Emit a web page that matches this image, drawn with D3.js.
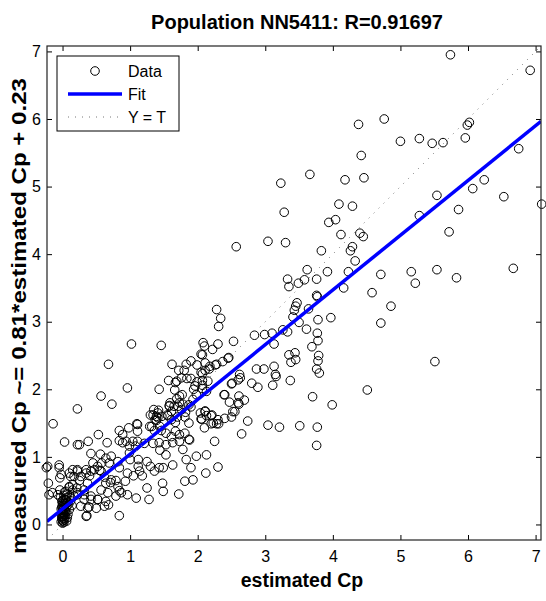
<!DOCTYPE html>
<html>
<head>
<meta charset="utf-8">
<script src="https://cdn.jsdelivr.net/npm/d3@7"></script>
<style>
body { margin: 0; background: #fff; }
text { font-family: "Liberation Sans", Arial, Helvetica, sans-serif; fill: #000; }
</style>
</head>
<body>
<div id="chart"></div>
<script>
// [estimated Cp, measured Cp] pairs, grouped by area

// the solid blob right at estimated = 0
var nearZero = [
    [0.00,0.02],[0.01,0.05],[-0.01,0.08],[0.02,0.10],[0.00,0.12],[0.03,0.14],[-0.02,0.16],[0.01,0.18],
    [0.04,0.20],[0.00,0.22],[0.02,0.24],[-0.01,0.26],[0.03,0.28],[0.05,0.30],[0.01,0.32],[0.00,0.35],
    [0.04,0.37],[0.06,0.40],[0.02,0.43],[0.07,0.45],[0.00,0.06],[0.02,0.03],[-0.02,0.04],[0.03,0.07],
    [0.01,0.09],[-0.01,0.11],[0.04,0.12],[0.02,0.15],[0.00,0.17],[0.05,0.18],[0.03,0.21],[-0.02,0.23],
    [0.01,0.25],[0.06,0.26],[0.00,0.29],[0.03,0.31],[0.08,0.33],[-0.01,0.34],[0.05,0.36],[0.02,0.38],
    [0.09,0.30],[0.10,0.22],[0.08,0.15],[0.07,0.10],[0.06,0.05],[0.12,0.35],[0.11,0.42],[0.14,0.28],
    [0.03,0.48],[-0.03,0.40]
];

// estimated below ~1.3, measured below ~1.5
var lowLeft = [
    [0.03,1.22],[0.53,1.33],[0.25,1.18],[0.38,1.23],[0.66,1.21],[0.84,1.39],[1.10,1.49],[0.84,1.24],
    [0.94,1.23],[1.04,1.23],[0.42,1.05],[0.56,1.04],[0.64,0.98],[0.72,1.01],[0.58,0.91],[0.69,0.91],
    [0.82,0.93],[0.84,0.84],[0.99,1.06],[1.00,0.96],[1.12,0.96],[1.12,0.86],[1.25,0.93],[1.30,0.86],
    [1.14,0.79],[1.05,0.72],[1.18,0.72],[0.96,0.76],[0.93,0.64],[0.79,0.65],[0.82,0.56],[0.71,0.62],
    [0.62,0.70],[0.55,0.80],[0.47,0.81],[0.40,0.72],[0.35,0.81],[0.22,0.81],[0.12,0.71],[0.25,0.65],
    [0.21,0.54],[-0.05,0.84],[-0.04,0.69],[-0.21,0.61],[-0.24,0.84],[-0.15,0.47],[-0.20,0.44],[-0.04,0.51],
    [0.05,0.49],[0.10,0.55],[0.15,0.51],[0.22,0.44],[0.32,0.44],[0.42,0.37],[0.39,0.26],[0.52,0.37],
    [0.64,0.34],[0.68,0.29],[0.84,0.50],[0.96,0.44],[1.09,0.39],[1.25,0.54],[1.28,0.37],[0.84,0.13],
    [0.36,0.13],[0.27,0.27],[0.22,1.18],[-0.05,0.88],[-0.22,0.86],[-0.07,0.44],[-0.02,0.74],[0.10,0.76],
    [0.17,0.71],[0.15,0.81],[0.22,0.79],[0.27,0.71],[0.35,0.76],[0.42,0.79],[0.45,0.91],[0.52,0.86],
    [0.57,0.79],[0.37,0.61],[0.32,0.51],[0.22,0.47],[0.15,0.59],[0.10,0.56],[0.17,0.42],[0.32,0.37],
    [0.42,0.42],[0.52,0.37],[0.57,0.51],[0.64,0.61],[0.72,0.66],[0.67,0.47],[0.79,0.42],[0.87,0.47],
    [0.62,0.27],[0.50,0.24],[0.37,0.24],[0.35,0.12]
];

// the thick band along the fit between 1 and 2.6
var band = [
    [1.48,0.61],[1.49,0.49],[1.72,0.45],[1.81,0.64],[1.93,0.66],[1.63,0.88],[1.43,0.84],[1.36,0.79],
    [1.49,0.84],[1.44,1.10],[1.53,1.03],[1.78,1.11],[2.25,1.23],[2.13,1.03],[1.98,1.01],[1.83,0.96],
    [1.90,0.84],[1.88,1.25],[2.23,1.50],[2.12,0.76],[2.30,0.85],
    [2.50,2.08],[2.60,2.14],[2.39,1.92],[2.47,1.81],[2.60,1.80],[2.55,1.67],[2.50,1.59],[2.40,1.57],
    [2.30,1.55],[2.20,1.49],[2.10,1.43],[2.06,1.56],[2.13,1.61],[2.04,1.65],[1.90,1.74],[1.93,1.85],
    [1.87,1.77],[1.82,1.66],[1.76,1.70],[1.71,1.75],[1.65,1.75],[1.58,1.76],[1.61,1.67],[1.55,1.62],
    [1.47,1.60],[1.41,1.65],[1.34,1.62],[1.39,1.54],[1.29,1.45],[1.36,1.39],[1.46,1.39],[1.53,1.35],
    [1.61,1.30],[1.67,1.38],[1.73,1.33],[1.81,1.35],[1.87,1.26],[1.73,1.23],[1.63,1.21],[1.53,1.18],
    [1.43,1.21],[1.34,1.20],[1.21,1.20],[1.11,1.23],[1.08,1.16],[0.99,1.16],[0.89,1.21],[0.89,1.33],
    [0.98,1.43],[1.11,1.48],[1.11,1.38],
    [1.02,2.67],[1.46,2.65],[0.68,2.37],[0.96,2.02],[1.43,2.00],[0.57,1.90],[0.73,1.78],[0.22,1.71],
    [-0.14,1.49],[1.62,2.37],[1.90,2.42],[1.83,2.37],[1.80,2.28],[1.72,2.28],[1.76,2.17],[1.57,2.13],
    [1.69,2.12],[1.66,1.99],[1.84,2.16],[1.90,2.16],[1.96,2.05],[1.94,2.00],[1.99,2.11],[2.07,2.23],
    [2.11,2.28],[2.07,2.13],[2.13,1.97],[1.98,1.92],[1.73,1.90],[1.77,1.92],[1.69,1.86],[1.73,1.80],
    [1.78,1.78],[1.58,1.75],[1.59,1.80],[1.35,1.70],[1.42,1.69],[1.30,1.62],[1.39,1.60],[1.37,1.55],
    [1.41,1.58],[1.56,1.61],[1.61,1.55],[1.70,1.59],[1.81,1.59],[1.87,1.50],[1.67,1.51],[1.44,1.45],
    [1.32,1.45],[2.11,1.67],[2.21,1.62],[2.28,1.49],[1.99,2.36],[1.67,2.10]
];

// estimated 2 to 4.5, measured up to ~3.4
var middle = [
    [3.76,3.39],[3.77,3.37],[3.47,3.28],[3.45,3.23],[3.43,3.17],[3.64,3.19],[3.41,3.07],[3.50,2.99],
    [3.78,3.03],[3.97,3.06],[3.61,2.89],[3.26,2.88],[3.33,2.85],[2.84,2.80],[2.99,2.81],[3.10,2.83],
    [3.13,2.67],[3.77,2.83],[3.78,2.72],[3.69,2.63],[2.53,2.71],[2.28,3.18],[2.34,3.05],[2.31,2.93],
    [2.08,2.69],[2.10,2.64],[2.30,2.67],[2.22,2.59],[2.05,2.52],[2.46,2.47],[2.37,2.41],[2.28,2.37],
    [2.18,2.34],[3.35,2.51],[3.44,2.54],[3.38,2.40],[3.45,2.44],[3.79,2.50],[3.78,2.42],[3.76,2.30],
    [3.80,2.24],[2.87,2.30],[2.98,2.30],[3.13,2.34],[3.15,2.22],[3.16,2.19],[3.11,2.06],[3.37,2.13],
    [2.80,2.09],[2.89,2.03],[2.62,2.22],[2.63,2.17],[2.51,2.09],[2.40,1.92],[2.61,1.90],[2.69,1.84],
    [2.61,1.78],[2.52,1.67],[2.74,1.53],[2.65,1.34],[3.04,1.47],[3.21,1.44],[3.51,1.46],[3.77,1.44],
    [3.76,1.17],[3.70,1.89],[3.99,1.77],[4.51,1.99],[2.31,1.49],[2.20,1.61],[2.11,1.68],[2.05,1.56],
    [2.07,2.51],[2.11,2.39],[2.17,2.30],[2.26,2.36],[2.45,2.46],[2.05,2.25],[2.15,2.12],[2.07,2.06],
    [2.07,2.01]
];

// the sparse upper right
var upper = [
    [5.74,6.95],[6.92,6.72],[4.76,6.00],[6.02,5.95],[5.99,5.91],[5.00,5.67],[5.28,5.71],[5.47,5.64],
    [5.63,5.65],[5.96,5.72],[6.75,5.56],[6.24,5.10],[6.07,4.97],[5.54,4.87],[6.53,4.85],[7.09,4.74],
    [5.28,4.57],[5.86,4.66],[5.72,4.33],[4.71,3.70],[5.16,3.74],[5.22,3.57],[5.54,3.77],[5.83,3.65],
    [6.67,3.79],[4.86,3.23],[4.71,2.98],[5.51,2.41],[4.38,5.92],[4.42,5.46],[3.66,5.18],[3.23,5.05],
    [4.18,5.10],[4.46,5.13],[3.28,4.62],[4.09,4.74],[4.29,4.71],[3.94,4.47],[4.04,4.51],[4.12,4.29],
    [4.40,4.31],[4.45,4.26],[2.57,4.11],[3.04,4.19],[3.30,4.17],[4.29,4.11],[4.26,4.05],[3.83,4.05],
    [4.33,3.90],[3.62,3.77],[3.92,3.74],[4.23,3.74],[3.33,3.63],[3.35,3.52],[3.49,3.57],[3.58,3.62],
    [3.76,3.63],[4.16,3.50],[4.58,3.43]
];

var fitSlope = 0.81;
var fitIntercept = 0.23;
var tickValues = [0, 1, 2, 3, 4, 5, 6, 7];
var axisLimits = [-0.23, 7.08];
var legendLabels = ["Data", "Fit", "Y = T"];

var titleText = "Population NN5411: R=0.91697";
var xLabelText = "estimated Cp";
var yLabelText = "measured Cp ~= 0.81*estimated Cp + 0.23";

var allPoints = nearZero.concat(lowLeft, band, middle, upper);

//////// layout \\\\\\\\
var width = 546, height = 601;
// (can't call it "top", that's window.top)
var plotLeft = 47, plotTop = 46, plotW = 494, plotH = 494;

var svg = d3.select("#chart").append("svg")
    .attr("width", width)
    .attr("height", height);

var x = d3.scaleLinear().domain(axisLimits).range([plotLeft, plotLeft + plotW]);
var y = d3.scaleLinear().domain(axisLimits).range([plotTop + plotH, plotTop]);

svg.append("clipPath").attr("id", "plotclip")
    .append("rect")
    .attr("x", plotLeft).attr("y", plotTop)
    .attr("width", plotW).attr("height", plotH);

// axes, ticks point inward on all 4 sides (matlab box on)
var styleAxis = function(g) {
    g.select(".domain").remove();
    g.selectAll(".tick line").attr("stroke", "#000");
    g.selectAll(".tick text")
        .style("font-size", "16px")
        .style("font-family", "'Liberation Sans', Arial, sans-serif")
        .attr("fill", "#000");
};

svg.append("g")
    .attr("transform", "translate(0," + (plotTop + plotH) + ")")
    .call(d3.axisBottom(x).tickValues(tickValues).tickSizeInner(-5).tickSizeOuter(0).tickPadding(11))
    .call(styleAxis);

svg.append("g")
    .attr("transform", "translate(0," + plotTop + ")")
    .call(d3.axisTop(x).tickValues(tickValues).tickSizeInner(-5).tickSizeOuter(0).tickFormat(""))
    .call(styleAxis);

svg.append("g")
    .attr("transform", "translate(" + plotLeft + ",0)")
    .call(d3.axisLeft(y).tickValues(tickValues).tickSizeInner(-5).tickSizeOuter(0).tickPadding(6))
    .call(styleAxis);

svg.append("g")
    .attr("transform", "translate(" + (plotLeft + plotW) + ",0)")
    .call(d3.axisRight(y).tickValues(tickValues).tickSizeInner(-5).tickSizeOuter(0).tickFormat(""))
    .call(styleAxis);

// data circles
svg.append("g").selectAll("circle")
    .data(allPoints)
    .enter().append("circle")
    .attr("cx", d => x(d[0]))
    .attr("cy", d => y(d[1]))
    .attr("r", 4.3)
    .attr("fill", "none")
    .attr("stroke", "#000")
    .attr("stroke-width", 1);

// fit line and Y = T, clipped to the axes
var lines = svg.append("g").attr("clip-path", "url(#plotclip)");
var line = d3.line().x(d => x(d[0])).y(d => y(d[1]));

lines.append("path")
    .datum(axisLimits.map(v => [v, fitSlope * v + fitIntercept]))
    .attr("d", line)
    .attr("fill", "none")
    .attr("stroke", "#0000ff")
    .attr("stroke-width", 3.5);

lines.append("path")
    .datum(axisLimits.map(v => [v, v]))
    .attr("d", line)
    .attr("fill", "none")
    .attr("stroke", "#777")
    .attr("stroke-width", 1)
    .attr("stroke-dasharray", "1,6");

// box
svg.append("rect")
    .attr("x", plotLeft).attr("y", plotTop)
    .attr("width", plotW).attr("height", plotH)
    .attr("fill", "none")
    .attr("stroke", "#222")
    .attr("stroke-width", 1.2);

// legend
var legend = svg.append("g").attr("transform", "translate(57,56)");
legend.append("rect")
    .attr("width", 122).attr("height", 75)
    .attr("fill", "#fff")
    .attr("stroke", "#000");

legendLabels.forEach(function(label, i) {
    var ly = 15 + i * 23;
    if (i == 0) {
        legend.append("circle").attr("cx", 38).attr("cy", ly).attr("r", 4.3)
            .attr("fill", "none").attr("stroke", "#000");
    } else {
        legend.append("line")
            .attr("x1", 11).attr("x2", 65).attr("y1", ly).attr("y2", ly)
            .attr("stroke", i == 1 ? "#0000ff" : "#777")
            .attr("stroke-width", i == 1 ? 3.5 : 1)
            .attr("stroke-dasharray", i == 1 ? null : "1,6");
    }
    legend.append("text")
        .attr("x", 71).attr("y", ly)
        .attr("dy", "0.36em")
        .style("font-size", "16px")
        .text(label);
});

// titles
svg.append("text")
    .attr("x", plotLeft + plotW / 2 + 3).attr("y", 29)
    .attr("text-anchor", "middle")
    .style("font-size", "20px").style("font-weight", "bold")
    .text(titleText);

svg.append("text")
    .attr("x", 302).attr("y", 587)
    .attr("text-anchor", "middle")
    .style("font-size", "19.5px").style("font-weight", "bold")
    .text(xLabelText);

// the y label in the reference runs long, past the bottom of the axes
svg.append("text")
    .attr("transform", "translate(26,316) rotate(-90)")
    .attr("text-anchor", "middle")
    .attr("textLength", 476)
    .attr("lengthAdjust", "spacingAndGlyphs")
    .style("font-size", "20px").style("font-weight", "bold")
    .text(yLabelText);
</script>
</body>
</html>
